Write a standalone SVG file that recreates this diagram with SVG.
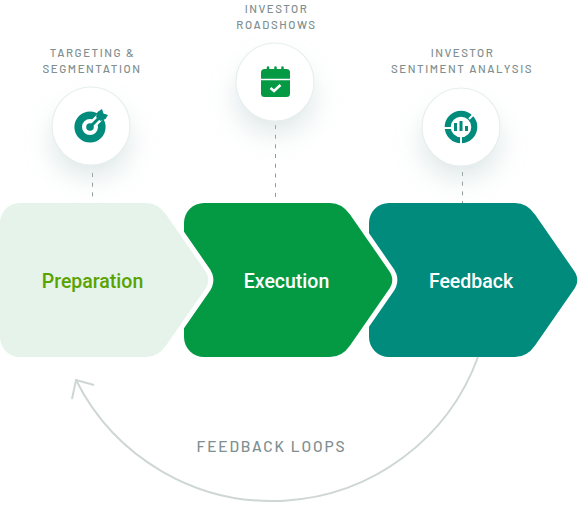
<svg xmlns="http://www.w3.org/2000/svg" width="580" height="520" viewBox="0 0 580 520">
<defs>
<filter id="sh" x="-100%" y="-100%" width="300%" height="300%"><feGaussianBlur stdDeviation="14"/></filter>
<path id="chev" d="M20,203H146Q158,203 166,214.500L204.500,270Q212,280 204.500,290L166,345.500Q158,357 146,357H20A20,20 0 0 1 0,337V223A20,20 0 0 1 20,203Z"/>
</defs>
<style>
.cap{font-family:"Barlow","Roboto","Liberation Sans",sans-serif;font-size:11.5px;font-weight:500;letter-spacing:1.55px;fill:#7f9090;text-anchor:middle}
.name{font-family:"Roboto","Liberation Sans",sans-serif;font-size:19.500px;font-weight:500;text-anchor:middle}
.step{paint-order:stroke;stroke:#fff;stroke-width:10;stroke-linejoin:round}
.dash{stroke:#8f9a9a;stroke-width:1;stroke-dasharray:4 5.700;fill:none}
.halo{fill:#bfd0d0;opacity:.55;filter:url(#sh)}
.disc{fill:#fff;stroke:#e6efed;stroke-width:1.200}
.loop{fill:none;stroke:#cfd6d6;stroke-width:2}
</style>
<rect width="580" height="520" fill="#fff"/>
<g id="node-feedback">
<use href="#chev" x="369" fill="#008b7d"/>
<text class="name" x="471" y="287.500" fill="#fff">Feedback</text>
</g>
<g id="node-execution">
<use href="#chev" x="184" class="step" fill="#049a44"/>
<text class="name" x="286.500" y="287.500" fill="#fff">Execution</text>
</g>
<g id="node-preparation">
<use href="#chev" class="step" fill="#e5f3ea"/>
<text class="name" x="92.500" y="287.500" fill="#5aa200">Preparation</text>
</g>
<g id="connectors">
<line class="dash" x1="92.500" y1="173" x2="92.500" y2="197"/>
<line class="dash" x1="275.500" y1="125" x2="275.500" y2="197"/>
<line class="dash" x1="462.500" y1="172" x2="462.500" y2="203"/>
<path class="loop" d="M478,357A219.300,219.300 0 0 1 76,380"/>
<path class="loop" d="M94,385L76,380L72,399"/>
</g>
<g id="label-loops"><text x="271.500" y="452" font-family="Barlow,Roboto,'Liberation Sans',sans-serif" font-size="15.500" font-weight="500" letter-spacing="1.850" fill="#7f9090" text-anchor="middle">FEEDBACK LOOPS</text></g>
<g id="step-targeting">
<text class="cap" x="92.500" y="57">TARGETING &amp;</text><text class="cap" x="92" y="73">SEGMENTATION</text>
<ellipse class="halo" cx="91" cy="142" rx="38" ry="34"/>
<circle class="disc" cx="91" cy="126" r="39"/>
<circle cx="90" cy="127" r="11.800" fill="none" stroke="#008b7d" stroke-width="7.600"/>
<path d="M90,127L108,109" stroke="#fff" stroke-width="8" fill="none"/>
<circle cx="90" cy="127" r="3.800" fill="#008b7d"/>
<path d="M90,127L100,117" stroke="#008b7d" stroke-width="3" fill="none"/>
<path d="M96,117L97.500,112L102,109L103.500,113.500L108,115L105.500,119L100.500,121Z" fill="#008b7d"/>
</g>
<g id="step-roadshows">
<text class="cap" x="276.500" y="13">INVESTOR</text><text class="cap" x="276.500" y="29">ROADSHOWS</text>
<ellipse class="halo" cx="275" cy="98" rx="38" ry="34"/>
<circle class="disc" cx="275" cy="82" r="39"/>
<rect x="261" y="69" width="29" height="28" rx="3.500" fill="#049a44"/>
<path d="M268,70V67.500M275.500,70V67.500M282.500,70V67.500" stroke="#049a44" stroke-width="2.500" stroke-linecap="round" fill="none"/>
<path d="M261,79.500H290" stroke="#fff" stroke-width="1.500" fill="none"/>
<path d="M270.500,88L274,91L280.500,85" stroke="#fff" stroke-width="2.500" fill="none"/>
</g>
<g id="step-sentiment">
<text class="cap" x="462.500" y="57">INVESTOR</text><text class="cap" x="462" y="73">SENTIMENT ANALYSIS</text>
<ellipse class="halo" cx="461" cy="143" rx="38" ry="34"/>
<circle class="disc" cx="461" cy="127" r="39"/>
<circle cx="461" cy="127" r="13.300" fill="none" stroke="#008b7d" stroke-width="6"/>
<path d="M443,128H453M461,136V145M469,119L477,111" stroke="#fff" stroke-width="2" fill="none"/>
<path d="M454,123h3v8h-3zM459.500,121h3v10h-3zM465,126h3v5h-3z" fill="#008b7d"/>
</g>
</svg>
